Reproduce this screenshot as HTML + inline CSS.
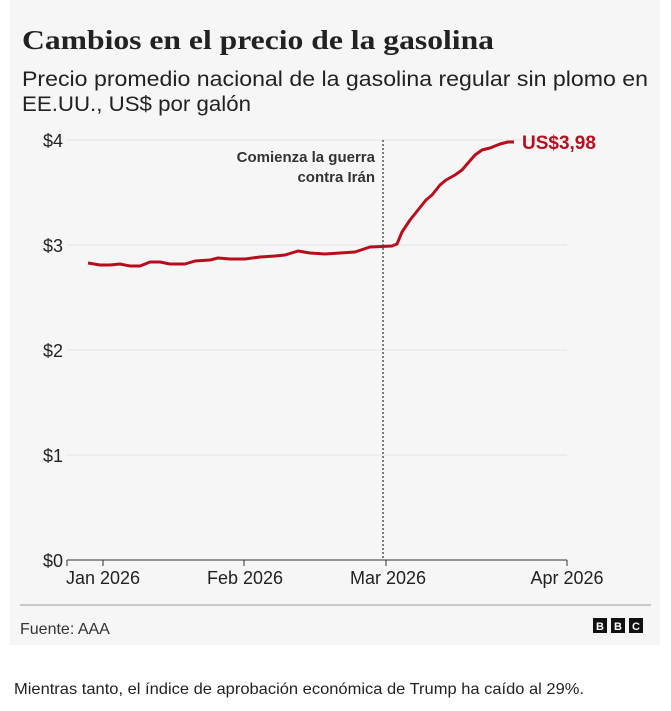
<!DOCTYPE html>
<html><head><meta charset="utf-8"><style>
body{margin:0;background:#fff;width:671px;height:711px;overflow:hidden;font-family:"Liberation Sans",sans-serif}
.card{position:absolute;left:10px;top:0;width:650px;height:645px;background:#f6f6f6}
</style></head><body>
<div class="card"></div>
<svg width="671" height="711" style="position:absolute;left:0;top:0" font-family="Liberation Sans, sans-serif">
<text x="22" y="49" font-family="Liberation Serif, serif" font-size="27" font-weight="bold" fill="#222" textLength="472" lengthAdjust="spacingAndGlyphs">Cambios en el precio de la gasolina</text>
<text x="22" y="86" font-size="21" fill="#222" textLength="626" lengthAdjust="spacingAndGlyphs">Precio promedio nacional de la gasolina regular sin plomo en</text>
<text x="22" y="111" font-size="21" fill="#222" textLength="229" lengthAdjust="spacingAndGlyphs">EE.UU., US$ por galón</text>
<g stroke="#e4e4e4" stroke-width="1">
<line x1="67" y1="140" x2="567" y2="140"/><line x1="67" y1="245" x2="567" y2="245"/><line x1="67" y1="350" x2="567" y2="350"/><line x1="67" y1="455" x2="567" y2="455"/>
</g>
<g font-size="18" fill="#222" text-anchor="end">
<text x="63" y="147">$4</text><text x="63" y="252">$3</text><text x="63" y="357">$2</text><text x="63" y="462">$1</text><text x="63" y="567">$0</text>
</g>
<line x1="67" y1="560" x2="567" y2="560" stroke="#333" stroke-width="1"/>
<g stroke="#333"><line x1="67" y1="560" x2="67" y2="566"/><line x1="103" y1="560" x2="103" y2="566"/><line x1="244" y1="560" x2="244" y2="566"/><line x1="386" y1="560" x2="386" y2="566"/><line x1="567" y1="560" x2="567" y2="566"/></g>
<g font-size="18" fill="#222" text-anchor="middle">
<text x="103" y="584">Jan 2026</text><text x="245" y="584">Feb 2026</text><text x="388" y="584">Mar 2026</text><text x="567" y="584">Apr 2026</text>
</g>
<line x1="383" y1="140" x2="383" y2="560" stroke="#555" stroke-width="1.5" stroke-dasharray="2,2"/>
<g font-size="15" font-weight="bold" fill="#333" text-anchor="end">
<text x="375" y="162">Comienza la guerra</text><text x="375" y="182">contra Irán</text>
</g>
<polyline fill="none" stroke="#b80d1e" stroke-width="3" stroke-linejoin="round" points="88,263 100,265 110,265 120,264 130,266 140,266 150,262 160,262 170,264 185,264 195,261 210,260 218,258 230,259 245,259 260,257 275,256 285,255 298,251 310,253 325,254 340,253 355,252 370,247 392,246 397,244 402,232 410,220 418,210 426,200 432,195 440,185 446,180 455,175 462,170 468,163 475,155 482,150 490,148 500,144 508,142 514,142"/>
<text x="522" y="149" font-size="19" font-weight="bold" fill="#b80d1e">US$3,98</text>
<line x1="20" y1="605" x2="651" y2="605" stroke="#999"/>
<text x="20" y="634" font-size="16" fill="#333">Fuente: AAA</text>
<g><rect x="593" y="618" width="14" height="15" fill="#111"/><rect x="611" y="618" width="14" height="15" fill="#111"/><rect x="629" y="618" width="14" height="15" fill="#111"/>
<g font-size="11" font-weight="bold" fill="#fff" text-anchor="middle"><text x="600" y="630">B</text><text x="618" y="630">B</text><text x="636" y="630">C</text></g></g>
<text x="14" y="694" font-size="16" fill="#222" textLength="570" lengthAdjust="spacingAndGlyphs">Mientras tanto, el índice de aprobación económica de Trump ha caído al 29%.</text>
</svg>
</body></html>
